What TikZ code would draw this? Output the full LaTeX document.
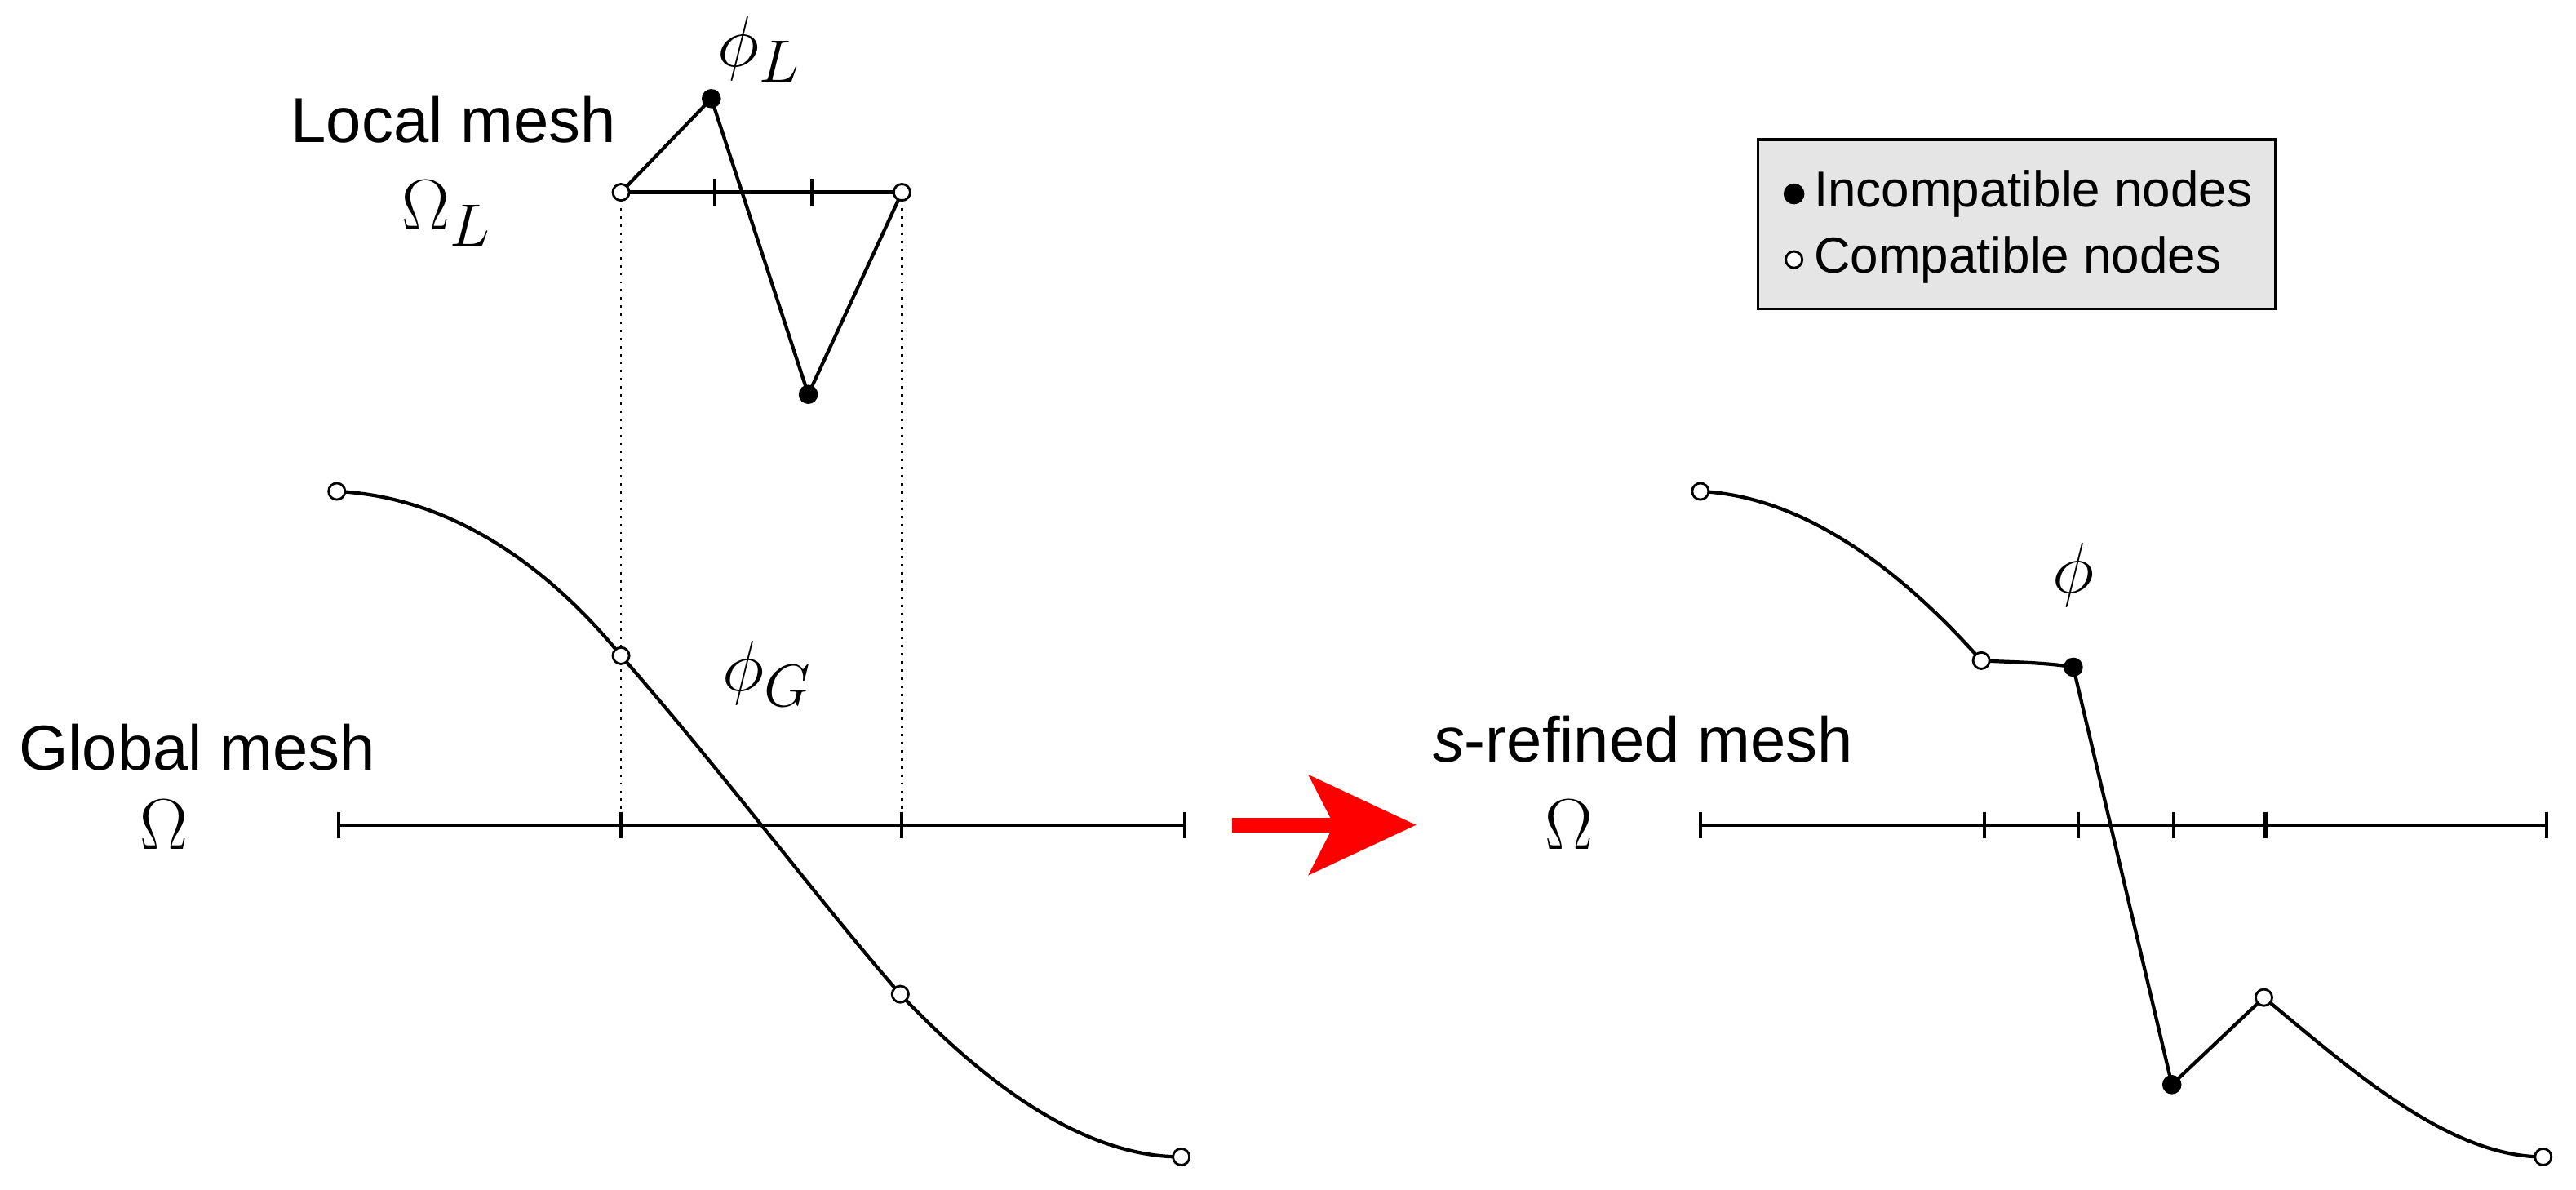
\documentclass[tikz,border=0pt]{standalone}
\usepackage{fontspec}
\setmainfont{Liberation Sans}
\usetikzlibrary{arrows.meta}
\begin{document}
\begin{tikzpicture}[x=0.02cm,y=-0.02cm,
  od/.style={circle,draw,fill=white,inner sep=0pt,minimum size=0.2cm,line width=0.8pt},
  fd/.style={circle,draw,fill=black,inner sep=0pt,minimum size=0.22cm},
  ln/.style={line width=1.2pt},
  tk/.style={line width=1.2pt},
  lab/.style={font=\fontsize{22}{26}\selectfont},
  leg/.style={anchor=west,font=\fontsize{17.5}{21}\selectfont},
  mlab/.style={font=\fontsize{28}{32}\selectfont}]
\useasboundingbox (0,0) rectangle (1568,724);
% left axis
\coordinate (a0) at (206,502); \coordinate (a1) at (378,502); \coordinate (a2) at (549,502); \coordinate (a3) at (721,502);
\draw[ln] (a0) -- (a3);
\foreach \x in {206,378,549,721} \draw[tk] (\x,494) -- (\x,510);
% local mesh
\coordinate (l0) at (378,117); \coordinate (l1) at (549,117);
\draw[ln] (l0) -- (l1);
\foreach \x in {435,494} \draw[tk] (\x,109) -- (\x,125);
\draw[dotted,line width=0.8pt] (l0) -- (a1);
\draw[dotted,line width=0.8pt] (l1) -- (a2);
\draw[ln] (l0) -- (433,60) -- (492,240) -- (l1);
\node[od] (p0) at (l0) {}; \node[od] (p1) at (l1) {};
\node[fd] (f0) at (433,60) {}; \node[fd] (f1) at (492,240) {};
% global curve
\draw[ln] (205,299) .. controls (270,302) and (330,340) .. (378,399)
  .. controls (440,470) and (500,550) .. (548,605)
  .. controls (600,660) and (660,704) .. (719,704);
\node[od] (g0) at (205,299) {}; \node[od] (g1) at (378,399) {};
\node[od] (g2) at (548,605) {}; \node[od] (g3) at (719,704) {};
% labels left
\node[mlab] (phL) at (462,30) {$\phi_L$};
\node[lab] (lm) at (276,73) {Local mesh};
\node[mlab] (OL) at (272,130) {$\Omega_L$};
\node[mlab] (phG) at (467,410) {$\phi_G$};
\node[lab] (gm) at (120,455) {Global mesh};
\node[mlab] (O1) at (100,502) {$\Omega$};
% red arrow
\coordinate (r0) at (750,502); \coordinate (r1) at (862,502);
\draw[red,line width=5pt,-{Stealth[length=1.3cm,width=1.2cm,inset=0.3cm]}] (r0) -- (r1);
% right axis
\coordinate (b0) at (1035,502); \coordinate (b1) at (1550,502);
\draw[ln] (b0) -- (b1);
\foreach \x in {1035,1208,1265,1323,1379,1550} \draw[tk] (\x,494) -- (\x,510);
\draw[ln] (1035,299) .. controls (1100,302) and (1160,350) .. (1206,402)
  .. controls (1225,403) and (1245,403) .. (1262,406)
  -- (1322,660) -- (1378,607)
  .. controls (1430,650) and (1490,704) .. (1548,704);
\node[od] (h0) at (1035,299) {}; \node[od] (h1) at (1206,402) {};
\node[fd] (h2) at (1262,406) {}; \node[fd] (h3) at (1322,660) {};
\node[od] (h4) at (1378,607) {}; \node[od] (h5) at (1548,704) {};
\node[mlab] (ph) at (1262,350) {$\phi$};
\node[lab] (sm) at (1000,450) {\textit{s}-refined mesh};
\node[mlab] (O2) at (955,502) {$\Omega$};
% legend
\draw[fill=gray!20,line width=1pt] (1070,85) rectangle (1385,188);
\node[fd,minimum size=0.24cm] (lg1) at (1092,118) {};
\node[od] (lg2) at (1092,158) {};
\node[leg] (t1) at (1098,118) {Incompatible nodes};
\node[leg] (t2) at (1098,158) {Compatible nodes};
\end{tikzpicture}
\end{document}
